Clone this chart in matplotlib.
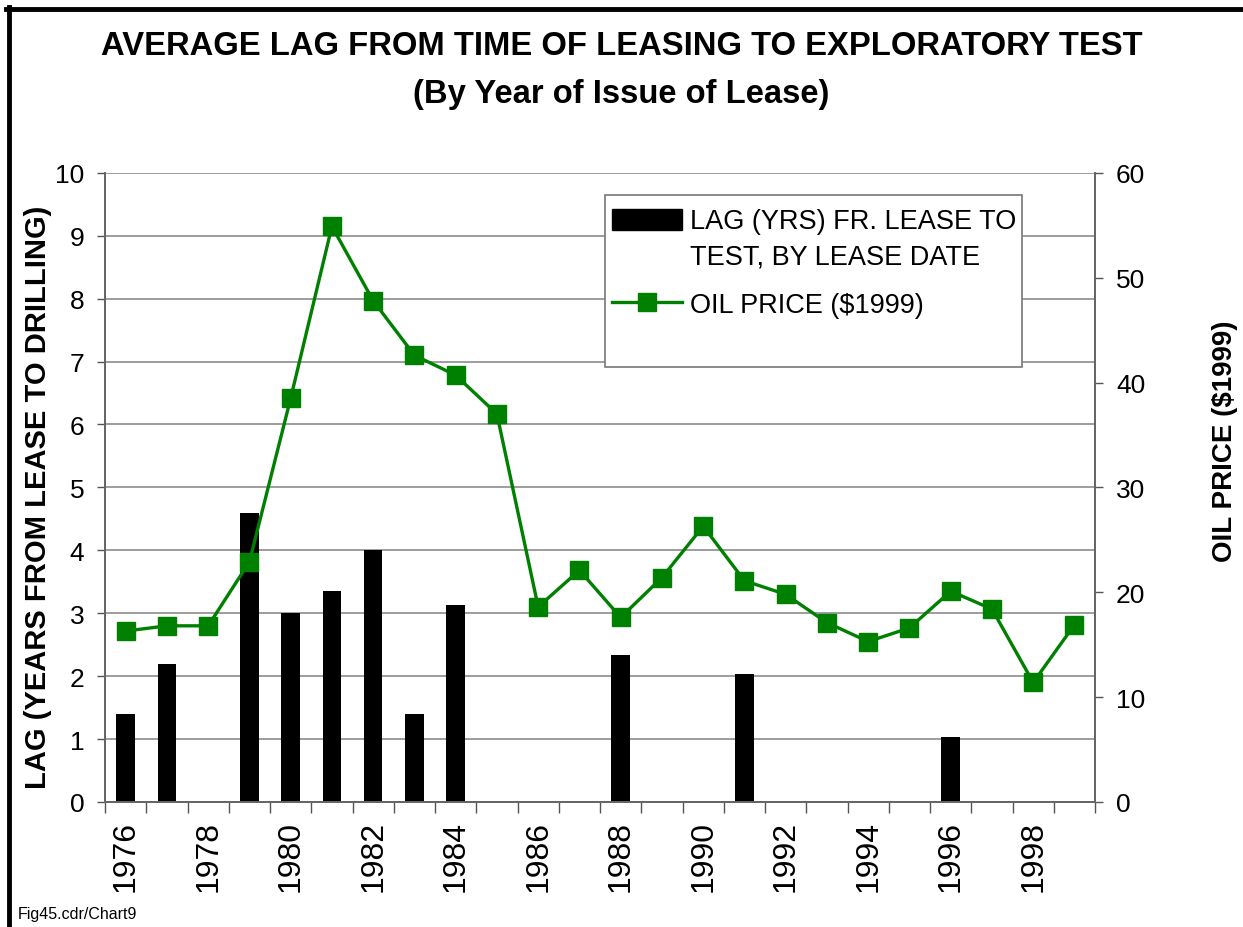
"""
Average lag from leasing to exploratory test, with oil price overlay.
"""

import numpy as np
import matplotlib
matplotlib.use("Agg")
import matplotlib.pyplot as plt
from matplotlib.patches import Rectangle, Patch
from matplotlib.lines import Line2D
from matplotlib.legend_handler import HandlerPatch

plt.rcParams['font.family'] = ['Liberation Sans', 'DejaVu Sans']

# Data
years = list(range(1976, 2000))
lag_years = [1.4, 2.2, np.nan, 4.6, 3.0, 3.35, 4.0, 1.4, 3.13, np.nan,
             np.nan, np.nan, 2.33, np.nan, np.nan, 2.03, np.nan, np.nan,
             np.nan, np.nan, 1.03, np.nan, np.nan, np.nan]
oil_price = [16.3, 16.8, 16.8, 22.9, 38.5, 54.9, 47.8, 42.6, 40.7, 37.0,
             18.6, 22.1, 17.6, 21.4, 26.3, 21.1, 19.8, 17.1, 15.3, 16.6,
             20.1, 18.4, 11.4, 16.9]
left_ticks = list(range(0, 11))
right_ticks = list(range(0, 61, 10))

green = '#008000'
grid_gray = '#8c8c8c'


def raised_rect(legend, orig_handle, xdescent, ydescent, width, height, fontsize):
    # keep the bar swatch level with the first line of its two-line label
    return Rectangle((-xdescent, -ydescent + 0.72 * fontsize), width, height)


fig = plt.figure(figsize=(12.43, 9.28), dpi=100)
ax1 = fig.add_axes([0.0845, 0.1347, 0.7965, 0.678])
ax2 = ax1.twinx()

x = np.arange(len(years))

# Bars for the lag
ax1.bar(x, lag_years, width=0.45, color='black', zorder=2)
ax1.set_xlim(-0.5, len(years) - 0.5)
ax1.set_ylim(0, 10)
ax1.set_yticks(left_ticks)
ax1.yaxis.grid(True, color=grid_gray, linewidth=1.2)
ax1.set_axisbelow(True)

# Oil price line on the right axis
ax2.plot(x, oil_price, color=green, linewidth=2.4, marker='s',
         markersize=13, markerfacecolor=green, markeredgecolor=green, zorder=3)
ax2.set_ylim(0, 60)
ax2.set_yticks(right_ticks)

# Year labels every two years, tick marks between categories
ax1.set_xticks(x[::2])
ax1.set_xticklabels([str(y) for y in years[::2]], rotation=90, fontsize=23)
ax1.set_xticks(np.arange(-0.5, len(years), 1.0), minor=True)
ax1.tick_params(axis='x', which='major', length=0, pad=13)
ax1.tick_params(axis='x', which='minor', length=8, width=1, color='#555555',
                direction='out')
ax1.tick_params(axis='y', length=6, width=1, color='#555555', pad=9,
                labelsize=19)
ax2.tick_params(axis='y', length=6, width=1, color='#555555', pad=9,
                labelsize=19)

for ax in (ax1, ax2):
    for side in ('left', 'right', 'bottom', 'top'):
        ax.spines[side].set_color('#666666')
        ax.spines[side].set_linewidth(1.4)
ax1.spines['top'].set_visible(False)
ax2.spines['top'].set_visible(False)

# Legend with its own box
box = Rectangle((0.505, 0.692), 0.421, 0.273, transform=ax2.transAxes,
                facecolor='white', edgecolor='#777777', linewidth=1.2, zorder=4)
ax2.add_patch(box)
bar_handle = Patch(facecolor='black', edgecolor='black')
line_handle = Line2D([], [], color=green, linewidth=2.4, marker='s',
                     markersize=13, markerfacecolor=green, markeredgecolor=green)
labels = ['LAG (YRS) FR. LEASE TO\nTEST, BY LEASE DATE', 'OIL PRICE ($1999)']
leg = ax2.legend([bar_handle, line_handle], labels, loc='upper left',
                 bbox_to_anchor=(0.512, 0.944), frameon=False, fontsize=19.5,
                 handlelength=2.6, handleheight=0.8, handletextpad=0.3,
                 labelspacing=0.85, borderpad=0, borderaxespad=0,
                 handler_map={Patch: HandlerPatch(patch_func=raised_rect)})
leg.set_zorder(5)
for t in leg.get_texts():
    t.set_linespacing(1.45)

# Titles and axis labels
fig.text(0.5, 0.950, 'AVERAGE LAG FROM TIME OF LEASING TO EXPLORATORY TEST',
         ha='center', va='center', fontsize=23.6, fontweight='bold')
fig.text(0.5, 0.898, '(By Year of Issue of Lease)',
         ha='center', va='center', fontsize=23.6, fontweight='bold')
fig.text(38 / 1243, 0.464, 'LAG (YEARS FROM LEASE TO DRILLING)',
         rotation=90, ha='center', va='center', fontsize=21, fontweight='bold')
fig.text(1225 / 1243, 0.524, 'OIL PRICE ($1999)',
         rotation=90, ha='center', va='center', fontsize=20, fontweight='bold')
fig.text(18 / 1243, 1 - 915 / 928, 'Fig45.cdr/Chart9', ha='left', va='center',
         fontsize=11.5)

# Frame along the top and left edge
fig.add_artist(Line2D([6 / 1243, 1.0], [1 - 10 / 928, 1 - 10 / 928],
                      color='black', linewidth=3.5))
fig.add_artist(Line2D([9 / 1243, 9 / 1243], [0.0, 1 - 8 / 928],
                      color='black', linewidth=3.5))

fig.savefig('out.png', dpi=100)
